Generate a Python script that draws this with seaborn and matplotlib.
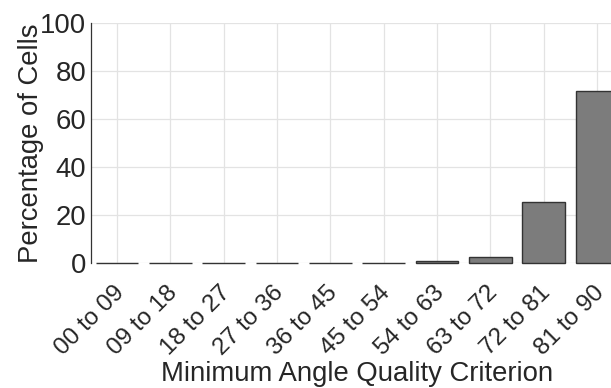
import matplotlib
matplotlib.use("Agg")
import matplotlib.pyplot as plt
import matplotlib.transforms as mtransforms
import seaborn as sns
import pandas as pd

# Distribution of cell minimum angles across quality bins
angle_bins = ["00 to 09", "09 to 18", "18 to 27", "27 to 36", "36 to 45",
              "45 to 54", "54 to 63", "63 to 72", "72 to 81", "81 to 90"]
percent_cells = [0.1, 0.1, 0.1, 0.1, 0.1, 0.1, 0.8, 2.6, 25.4, 71.7]

df = pd.DataFrame({"bin": angle_bins, "pct": percent_cells})

sns.set_style("white")
plt.rcParams["font.family"] = ["Liberation Sans", "DejaVu Sans"]

fig = plt.figure(figsize=(6.11, 3.88), dpi=100)
ax = fig.add_axes([90.5 / 611, 124.7 / 388, 533.3 / 611, 240 / 388])

sns.barplot(data=df, x="bin", y="pct", ax=ax, color="#7c7c7c",
            saturation=1, width=0.8, edgecolor="#333333", linewidth=1.0,
            zorder=3)
# keep the bar outlines whole along the zero line
for bar in ax.patches:
    bar.set_clip_on(False)

ax.set_xlim(-0.5, 9.5)
ax.set_ylim(0, 100)
ax.set_yticks([0, 20, 40, 60, 80, 100])

ax.grid(True, color="#e3e3e3", linewidth=0.9, zorder=0)
ax.set_axisbelow(True)

for side in ("top", "right", "bottom"):
    ax.spines[side].set_visible(False)
ax.spines["left"].set_color("#333333")
ax.spines["left"].set_linewidth(0.9)

fs = 19.8
ax.tick_params(axis="both", direction="in", length=4, width=0.8,
               color="#333333", labelcolor="#262626")
ax.tick_params(axis="y", pad=3, labelsize=fs)
ax.tick_params(axis="x", pad=19, labelsize=17.6)

shift = mtransforms.ScaledTranslation(2.5 / 72, 0, fig.dpi_scale_trans)
for lbl in ax.get_xticklabels():
    lbl.set_rotation(45)
    lbl.set_ha("right")
    lbl.set_va("center")
    lbl.set_rotation_mode("anchor")
    lbl.set_transform(lbl.get_transform() + shift)

ax.set_xlabel("Minimum Angle Quality Criterion", fontsize=fs,
              color="#262626", labelpad=1)
ax.set_ylabel("Percentage of Cells", fontsize=fs, color="#262626",
              labelpad=-3)

fig.savefig("out.png", dpi=100)
